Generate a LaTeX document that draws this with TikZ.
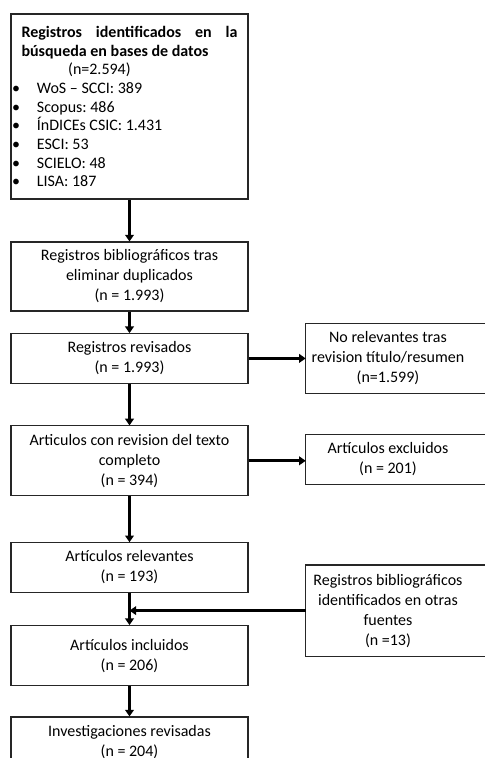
\documentclass[tikz,border=0pt]{standalone}
\usepackage{fontspec}
\setmainfont{Carlito}
\frenchspacing
\usetikzlibrary{arrows.meta}
\newcommand{\vineta}[1]{\hbox to \hsize{\kern-7pt\hbox to 18.6pt{\textbullet\hss}#1\hfil}}

\begin{document}
\begin{tikzpicture}[x=0.75pt,y=-0.75pt,
    box/.style={draw=black!85, line width=0.8pt, inner sep=0pt, font=\fontsize{12}{15}\selectfont},
    mainbox/.style={box, align=center, minimum width=177.75pt},
    sidebox/.style={inner sep=0pt, align=center, minimum width=123pt, font=\fontsize{12}{15}\selectfont},
    arr/.style={-{Triangle[length=5pt,width=6.5pt]}, line width=2pt}]
    \useasboundingbox (0,0) rectangle (485,758);
    \node[box, minimum width=177.75pt, minimum height=138.75pt] (busq) at (129.5,106.5) {%
        \parbox{162pt}{\fontsize{12}{14}\selectfont
        \hbox to \hsize{\bfseries Registros\hfill identificados\hfill en\hfill la}
        \hbox to \hsize{\bfseries búsqueda en bases de datos\hfil}
        \hbox to \hsize{\kern35pt(n=2.594)\hfil}
        \vineta{WoS – SCCI: 389}
        \vineta{Scopus: 486}
        \vineta{ÍnDICEs CSIC: 1.431}
        \vineta{ESCI: 53}
        \vineta{SCIELO: 48}
        \vineta{LISA: 187}}};
    \node[mainbox, minimum height=51.75pt] (dupl) at (129.5,276.5) {Registros bibliográficos tras\\eliminar duplicados\\(n = 1.993)};
    \node[mainbox, minimum height=37.1pt] (revis) at (129.5,358.4) {Registros revisados\\(n = 1.993)};
    \node[mainbox, minimum height=52.3pt] (texto) at (129.5,460.8) {Articulos con revision del texto\\completo\\(n = 394)};
    \node[mainbox, minimum height=37pt] (relev) at (129.5,567.4) {Artículos relevantes\\(n = 193)};
    \node[mainbox, minimum height=45pt] (incl) at (129.5,655.6) {Artículos incluidos\\(n = 206)};
    \node[mainbox, minimum height=37.5pt] (invest) at (129.5,742) {Investigaciones revisadas\\(n = 204)};
    % columna derecha (cortada por el borde)
    \node[sidebox, minimum height=52.3pt] (norel) at (388,358.4) {No relevantes tras\\revision título/resumen\\(n=1.599)};
    \node[sidebox, minimum height=37.1pt] (excl) at (388,459.4) {Artículos excluidos\\(n = 201)};
    \node[sidebox, minimum height=68pt] (otras) at (388,610.6) {Registros bibliográficos\\identificados en otras\\fuentes\\(n =13)};
    \foreach \n in {norel,excl,otras}
        \draw[draw=black!85, line width=0.8pt] (\n.north west) rectangle ([xshift=24pt]\n.south east);
    \draw[arr] (busq) -- (dupl);
    \draw[arr] (dupl) -- (revis);
    \draw[arr] (revis.east) -- (revis.east -| norel.west);
    \draw[arr] (revis) -- (texto);
    \draw[arr] (texto.east) -- (texto.east -| excl.west);
    \draw[arr] (texto) -- (relev);
    \draw[arr] (relev) -- (incl);
    \draw[arr] (otras.west) -- (otras.west -| relev.south);
    \draw[arr] (incl) -- (invest);
\end{tikzpicture}
\end{document}
